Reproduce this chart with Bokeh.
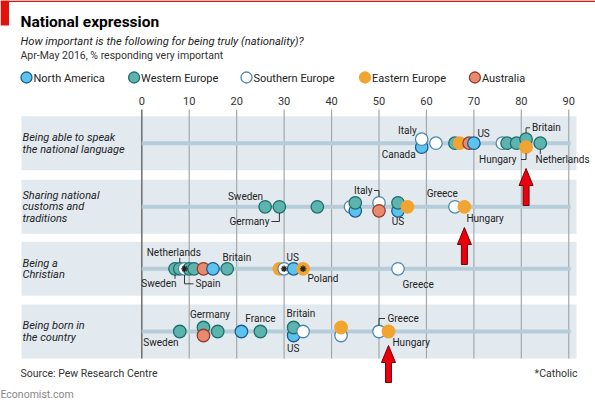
from bokeh.plotting import figure
from bokeh.models import Range1d, ColumnDataSource
from bokeh.core.properties import value
from bokeh.embed import file_html
from bokeh.resources import INLINE

# ---------------- data ----------------
countries = ["Canada", "US", "Britain", "France", "Germany", "Netherlands", "Sweden",
             "Greece", "Italy", "Spain", "Hungary", "Poland", "Australia"]
regions = ["North America", "North America", "Western Europe", "Western Europe",
           "Western Europe", "Western Europe", "Western Europe", "Southern Europe",
           "Southern Europe", "Southern Europe", "Eastern Europe", "Eastern Europe",
           "Australia"]
language = [59, 70, 81, 77, 79, 84, 66, 76, 59, 62, 81, 67, 69]
customs = [45, 54, 54, 37, 29, 45, 26, 66, 50, 44, 68, 56, 50]
christian = [15, 32, 18, 10, 11, 8, 7, 54, 30, 9, 29, 34, 13]
born = [21, 32, 32, 25, 13, 16, 8, 50, 42, 34, 52, 42, 13]
catholic = ["Italy", "Spain", "Poland"]
row_labels = [["Being able to speak", "the national language"],
              ["Sharing national", "customs and", "traditions"],
              ["Being a", "Christian"],
              ["Being born in", "the country"]]
legend_order = ["North America", "Western Europe", "Southern Europe", "Eastern Europe", "Australia"]
ticks = [0, 10, 20, 30, 40, 50, 60, 70, 80, 90]
highlight = "Hungary"

rows = [language, customs, christian, born]

# ---------------- style / layout ----------------
FONT = "Roboto"
FILL = {"North America": "#5cc3ee", "Western Europe": "#5db3ad", "Southern Europe": "#ffffff",
        "Eastern Europe": "#f2a431", "Australia": "#e68b70"}
LINE = {"North America": "#1d5b8a", "Western Europe": "#1f6f6c", "Southern Europe": "#4e89a8",
        "Eastern Europe": "#f2a431", "Australia": "#9a3a26"}
BAND = "#e2eaf0"
TRACK = "#b6ccd8"
PXU = 4.744          # pixels per percentage point
X0 = 141.3           # pixel x of 0


def sx(ix):
    return (ix - X0) / PXU


W, H = 595, 404
ROW_Y = [142.7, 206.3, 268.3, 331.0]

nudge = {(0, "Italy"): -4, (0, "Canada"): 4, (0, "Britain"): -4, (0, "Hungary"): 4,
         (1, "Netherlands"): -4, (1, "Canada"): 4, (1, "Italy"): -4, (1, "Australia"): 4,
         (1, "Britain"): -4, (1, "US"): 4,
         (3, "Germany"): -4, (3, "Australia"): 4, (3, "Britain"): -4, (3, "US"): 4,
         (3, "Poland"): -4, (3, "Italy"): 4}

# (row, country, text, dx, dy, align, leader points)
labels = [
    (0, "Italy", "Italy", -5, -8.7, "right", None),
    (0, "Canada", "Canada", -6, 7.6, "right", None),
    (0, "US", "US", 3.5, -9.4, "left", None),
    (0, "Britain", "Britain", 6, -11.4, "left", [(0, -6), (0, -11.4), (4, -11.4)]),
    (0, "Hungary", "Hungary", -9.6, 12.3, "right", [(0, 6), (0, 12.3), (-5, 12.3)]),
    (0, "Netherlands", "Netherlands", -4.8, 16.3, "left", [(0, 6.2), (0, 11)]),
    (1, "Sweden", "Sweden", -2, -10.3, "right", None),
    (1, "Germany", "Germany", -10, 14.7, "right", [(0, 6.2), (0, 14.7), (-8, 14.7)]),
    (1, "Italy", "Italy", -6.5, -12.3, "right", [(0, -6), (0, -12.3), (-5, -12.3)]),
    (1, "US", "US", 0, 10.7, "center", None),
    (1, "Greece", "Greece", 3, -13.3, "right", None),
    (1, "Hungary", "Hungary", 2, 11.7, "left", None),
    (2, "Netherlands", "Netherlands", -6, -16.3, "center", [(0, -6), (0, -11)]),
    (2, "Sweden", "Sweden", 1.5, 15, "right", [(0, 6), (0, 10)]),
    (2, "Spain", "Spain", 11, 15, "left", [(0, 6), (0, 15), (9, 15)]),
    (2, "Britain", "Britain", -4.7, -11.3, "left", None),
    (2, "US", "US", -1, -11.3, "center", None),
    (2, "Poland", "Poland", 4.4, 9.4, "left", None),
    (2, "Greece", "Greece", 4.5, 16, "left", None),
    (3, "Sweden", "Sweden", -1.3, 11, "right", None),
    (3, "Germany", "Germany", 6.5, -13, "center", None),
    (3, "France", "France", 0, -13, "center", None),
    (3, "Britain", "Britain", -7, -14, "left", None),
    (3, "US", "US", -0.5, 13, "center", None),
    (3, "Greece", "Greece", 8.5, -13, "left", [(0, -6), (0, -13), (6, -13)]),
    (3, "Hungary", "Hungary", 4, 10.7, "left", None),
]
arrow_tips = [(0, 168), (1, 227), (3, 345)]

p = figure(width=W, height=H, output_backend="svg", toolbar_location=None,
           x_range=Range1d(sx(0), sx(W)), y_range=Range1d(H, 0),
           x_axis_location=None, y_axis_location=None, min_border=0,
           min_border_left=0, min_border_right=0, min_border_top=0, min_border_bottom=0)
p.outline_line_color = None
p.grid.visible = False
p.background_fill_color = "white"
p.border_fill_color = "white"


def txt(x, y, s, size, color="#222", align="left", style="normal", base="middle"):
    p.text(x=[x], y=[y], text=[s], text_font=value(FONT), text_font_size=size,
           text_color=color, text_align=align, text_baseline=base, text_font_style=style)


# economist red marks
p.quad(left=sx(0), right=sx(8.5), top=0, bottom=25, fill_color="#e3120b", line_color=None)
p.quad(left=sx(0), right=sx(W), top=0, bottom=1.5, fill_color="#e3120b", line_color=None)

# header
txt(sx(20), 21, "National expression", "15.5px", "#000", style="bold")
txt(sx(20), 41, "How important is the following for being truly (nationality)?", "11.2px", "#222", style="italic")
txt(sx(20), 55, "Apr-May 2016, % responding very important", "10.5px", "#333")

# legend
leg_x = [26, 133.6, 246, 364.5, 474.4]
for lx, r in zip(leg_x, legend_order):
    p.scatter(x=[sx(lx)], y=[77], size=11, fill_color=FILL[r], line_color=LINE[r], line_width=1.3)
    txt(sx(lx + 7), 77.5, r, "11px", "#222")

# bands
for ry in ROW_Y:
    p.quad(left=sx(21), right=sx(576), top=ry - 27, bottom=ry + 27, fill_color=BAND, line_color=None)

# grid and tick labels
p.segment(x0=ticks[1:], x1=ticks[1:], y0=109, y1=358, line_color="#a3a8ab", line_width=1.2)
p.segment(x0=[0], x1=[0], y0=109, y1=358, line_color="#6e6e6e", line_width=1.5)
p.text(x=ticks, y=[100] * len(ticks), text=[str(t) for t in ticks], text_font=value(FONT),
       text_font_size="11px", text_color="#333", text_align="center", text_baseline="middle")

# tracks
for ry in ROW_Y:
    p.segment(x0=[0], x1=[90.4], y0=[ry], y1=[ry], line_color=TRACK, line_width=4)

# row labels
for ry, lines in zip(ROW_Y, row_labels):
    n = len(lines)
    for i, ln in enumerate(lines):
        txt(sx(22), ry + (i - (n - 1) / 2) * 11.6, ln, "11px", "#222", style="italic")

# dots
xs, ys, fc, lc = [], [], [], []
star_x, star_y = [], []
pos = {}
for ri, vals in enumerate(rows):
    order = sorted(range(len(countries)), key=lambda i: vals[i])
    for i in order:
        c = countries[i]
        y = ROW_Y[ri] + nudge.get((ri, c), 0)
        xs.append(vals[i]); ys.append(y)
        fc.append(FILL[regions[i]]); lc.append(LINE[regions[i]])
        pos[(ri, c)] = (vals[i], y)
        if ri == 2 and c in catholic:
            star_x.append(vals[i]); star_y.append(y)
src = ColumnDataSource(dict(x=xs, y=ys, fc=fc, lc=lc))
p.scatter("x", "y", source=src, size=12.5, fill_color="fc", line_color="lc", line_width=1.3)
p.scatter(star_x, star_y, marker="asterisk", size=6.5, line_color="#222", line_width=1.3)

# labels and leaders
for ri, c, s, dx, dy, al, lead in labels:
    x, y = pos[(ri, c)]
    txt(x + dx / PXU, y + dy, s, "10px", "#222", align=al)
    if lead:
        p.line([x + a / PXU for a, b in lead], [y + b for a, b in lead], line_color="#333", line_width=1)

# arrows
hi = countries.index(highlight)
shape = [(0, 0), (7, 17), (3, 17), (3, 37), (-3, 37), (-3, 17), (-7, 17)]
for ri, ty in arrow_tips:
    ax = rows[ri][hi]
    p.patch([ax + a / PXU for a, b in shape], [ty + b for a, b in shape],
            fill_color="#e8000d", line_color="#7a0008", line_width=1)

# footer
txt(sx(20), 373, "Source: Pew Research Centre", "10.5px", "#333")
txt(sx(577), 373, "*Catholic", "10.5px", "#333", align="right")
txt(sx(0), 394, "Economist.com", "10.5px", "#888")

open("out.html", "w").write(file_html(p, INLINE))
